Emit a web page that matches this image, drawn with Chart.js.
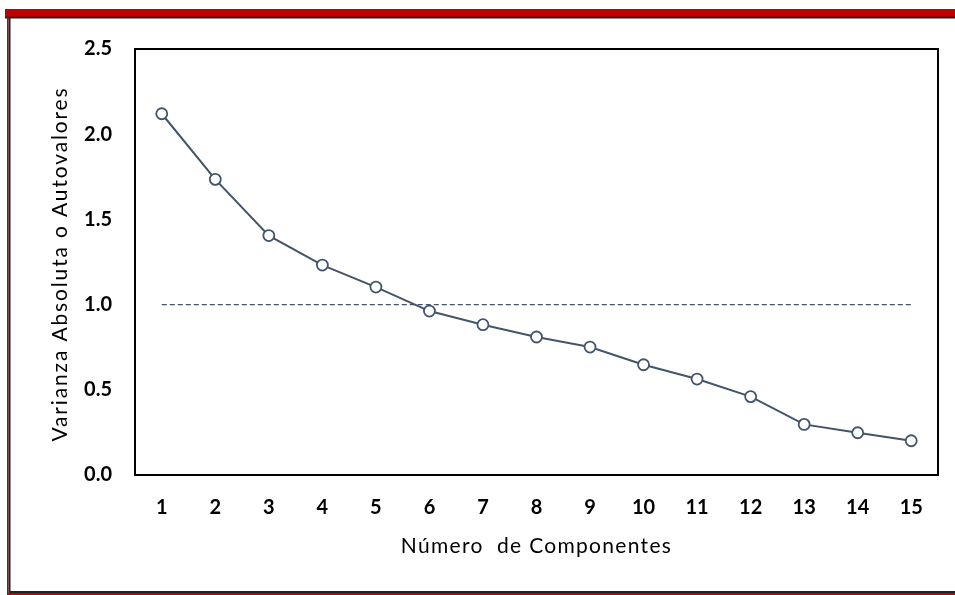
<!DOCTYPE html>
<html>
<head>
<meta charset="utf-8">
<script src="https://cdn.jsdelivr.net/npm/chart.js@4/dist/chart.umd.min.js"></script>
<style>
  html, body { margin: 0; padding: 0; background: #ffffff; }
  #wrap { position: relative; width: 955px; height: 595px; }
</style>
</head>
<body>
<div id="wrap"><canvas id="c" width="955" height="595"></canvas></div>
<script>
// Scree plot: eigenvalue of each principal component
const componentes = ['1', '2', '3', '4', '5', '6', '7', '8', '9', '10', '11', '12', '13', '14', '15'];
const autovalores = [2.12, 1.735, 1.405, 1.232, 1.103, 0.962, 0.882, 0.81, 0.751, 0.647, 0.563, 0.46, 0.297, 0.248, 0.201];
const criterioKaiser = [1.0, 1.0, 1.0, 1.0, 1.0, 1.0, 1.0, 1.0, 1.0, 1.0, 1.0, 1.0, 1.0, 1.0, 1.0];
const yTicks = [0.0, 0.5, 1.0, 1.5, 2.0, 2.5];
const tituloX = 'Número  de Componentes';
const tituloY = 'Varianza Absoluta o Autovalores';

const serieColor = '#44546A';
const fontFamily = 'Lato, "Open Sans", sans-serif';

// Outer frame (red band on top, thin red/black edges) and the plot box
const framePlugin = {
  id: 'frame',
  beforeDraw(chart) {
    const ctx = chart.ctx;
    ctx.save();
    ctx.fillStyle = '#ffffff';
    ctx.fillRect(0, 0, chart.width, chart.height);
    // top band
    ctx.fillStyle = '#C00000';
    ctx.fillRect(5, 9, chart.width - 5, 8);
    ctx.fillStyle = '#1a1a1a';
    ctx.fillRect(5, 16.7, chart.width - 5, 1.8);
    // left edge
    ctx.fillStyle = '#C00000';
    ctx.fillRect(7, 17, 1.5, 578);
    ctx.fillStyle = '#222222';
    ctx.fillRect(8.5, 17, 2, 574);
    // bottom edge
    ctx.fillStyle = '#222222';
    ctx.fillRect(8.5, 591, chart.width - 8.5, 2);
    ctx.fillStyle = '#C00000';
    ctx.fillRect(7, 593, chart.width - 7, 2);
    ctx.restore();
  },
  beforeDatasetsDraw(chart) {
    const { ctx, chartArea: a } = chart;
    ctx.save();
    ctx.strokeStyle = '#000000';
    ctx.lineWidth = 2;
    ctx.strokeRect(a.left, a.top, a.right - a.left, a.bottom - a.top);
    ctx.restore();
  }
};

// Axis titles, drawn with a little letter spacing
const axisTitlePlugin = {
  id: 'axisTitles',
  afterDraw(chart) {
    const { ctx, chartArea: a } = chart;
    ctx.save();
    ctx.fillStyle = '#000000';
    ctx.font = '21px ' + fontFamily;
    ctx.textAlign = 'center';
    ctx.textBaseline = 'alphabetic';
    ctx.letterSpacing = '1.3px';
    ctx.fillText(tituloX, (a.left + a.right) / 2, 553);
    ctx.translate(66.5, (a.top + a.bottom) / 2 + 2);
    ctx.rotate(-Math.PI / 2);
    ctx.letterSpacing = '1.85px';
    ctx.fillText(tituloY, 0, 0);
    ctx.restore();
  }
};

new Chart(document.getElementById('c'), {
  type: 'line',
  data: {
    labels: componentes,
    datasets: [
      {
        label: 'Autovalores',
        data: autovalores,
        borderColor: serieColor,
        borderWidth: 2,
        pointRadius: 5.5,
        pointBorderWidth: 1.8,
        pointBackgroundColor: '#ffffff',
        pointBorderColor: serieColor,
        tension: 0,
        order: 1
      },
      {
        label: 'Criterio',
        data: criterioKaiser,
        borderColor: serieColor,
        borderWidth: 1.4,
        borderDash: [5, 3],
        pointRadius: 0,
        tension: 0,
        order: 2
      }
    ]
  },
  options: {
    responsive: false,
    animation: false,
    devicePixelRatio: 1,
    layout: { padding: { top: 49, right: 17, left: 0, bottom: 0 } },
    plugins: {
      legend: { display: false },
      tooltip: { enabled: false }
    },
    scales: {
      x: {
        type: 'category',
        offset: true,
        grid: { display: false, drawTicks: false },
        border: { display: false },
        ticks: {
          color: '#000000',
          padding: 21,
          font: { family: fontFamily, size: 20, weight: 'bold' },
          maxRotation: 0,
          autoSkip: false
        },
        title: { display: false },
        afterFit(scale) { scale.height = 120; }
      },
      y: {
        min: 0,
        max: 2.5,
        grid: { display: false, drawTicks: false },
        border: { display: false },
        afterBuildTicks(scale) { scale.ticks = yTicks.map(v => ({ value: v })); },
        ticks: {
          color: '#000000',
          padding: 23,
          font: { family: fontFamily, size: 20, weight: 'bold' },
          callback: v => Number(v).toFixed(1)
        },
        title: { display: false },
        afterFit(scale) { scale.width = 135; }
      }
    }
  },
  plugins: [framePlugin, axisTitlePlugin]
});
</script>
</body>
</html>
